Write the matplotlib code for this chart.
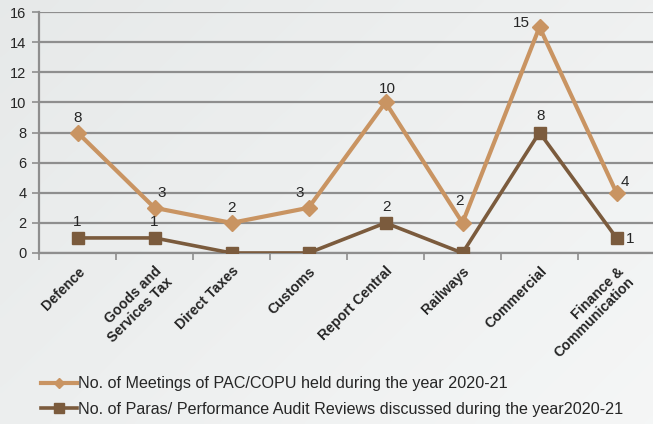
import numpy as np
import matplotlib
matplotlib.use("Agg")
import matplotlib.pyplot as plt
from matplotlib.lines import Line2D

categories = ["Defence", "Goods and\nServices Tax", "Direct Taxes", "Customs",
              "Report Central", "Railways", "Commercial", "Finance &\nCommunication"]
meetings = [8, 3, 2, 3, 10, 2, 15, 4]
paras = [1, 1, 0, 0, 2, 0, 8, 1]
label_meetings = "No. of Meetings of PAC/COPU held during the year 2020-21"
label_paras = "No. of Paras/ Performance Audit Reviews discussed during the year2020-21"

# label offsets in pixels (dx, dy)
off_meetings = [(0, 15), (7, 15), (0, 15), (-9, 15), (2, 13), (-3, 22), (-18, 4), (8, 11)]
off_paras = [(0, 16), (0, 16), None, None, (1, 16), None, (1, 16), (14, -1)]

tan = "#c99462"
brown = "#7b5b3d"
grid_c = "#8e8e8e"
txt = "#262626"

plt.rcParams["font.family"] = ["Liberation Sans", "DejaVu Sans"]

fig = plt.figure(figsize=(6.53, 4.24), dpi=100)

# soft background gradient
bg_ax = fig.add_axes([0, 0, 1, 1], zorder=-10)
gx, gy = np.meshgrid(np.linspace(0, 1, 200), np.linspace(0, 1, 130))
grad = 0.6 * gx + 0.4 * gy
c0 = np.array([0.905, 0.915, 0.915])
c1 = np.array([0.960, 0.965, 0.965])
img = c0[None, None, :] + (c1 - c0)[None, None, :] * grad[:, :, None]
bg_ax.imshow(img, aspect="auto", extent=[0, 1, 0, 1], interpolation="bilinear")
bg_ax.axis("off")

ax = fig.add_axes([39 / 653, 1 - 253 / 424, 616 / 653, 241 / 424])
ax.set_facecolor("none")

x = np.arange(len(categories))
ax.plot(x, meetings, color=tan, lw=3.0, marker="D", ms=8, mec=tan, mfc=tan, zorder=3)
ax.plot(x, paras, color=brown, lw=2.6, marker="s", ms=9, mec=brown, mfc=brown, zorder=4)

for i, v in enumerate(meetings):
    dx, dy = off_meetings[i]
    ax.annotate(str(v), (x[i], v), xytext=(dx, dy), textcoords="offset pixels",
                ha="center", va="center", fontsize=11, color=txt)
for i, v in enumerate(paras):
    if off_paras[i] is None:
        continue
    dx, dy = off_paras[i]
    ax.annotate(str(v), (x[i], v), xytext=(dx, dy), textcoords="offset pixels",
                ha="center", va="center", fontsize=11, color=txt)

ax.set_xlim(-0.5, len(categories) - 0.5)
ax.set_ylim(0, 16)
ax.set_yticks(range(0, 17, 2))
ax.yaxis.grid(True, color=grid_c, lw=1.6)
ax.set_axisbelow(True)
ax.set_xticks(np.arange(-0.5, len(categories), 1))
ax.set_xticklabels([])
ax.set_xticks(x, minor=True)
ax.set_xticklabels(categories, minor=True, rotation=45, ha="right",
                   rotation_mode="anchor", fontsize=10.2, fontweight="bold",
                   color=txt, linespacing=1.1)
ax.tick_params(axis="x", which="minor", length=0, pad=8)
ax.tick_params(axis="x", which="major", length=5, color=grid_c, width=1.2)
ax.tick_params(axis="y", length=5, color=grid_c, width=1.2, labelsize=10.5,
               labelcolor=txt, pad=4)
for s in ["top", "right"]:
    ax.spines[s].set_visible(False)
ax.spines["left"].set_color(grid_c)
ax.spines["left"].set_linewidth(1.6)
ax.spines["bottom"].set_color(grid_c)
ax.spines["bottom"].set_linewidth(1.6)

handles = [Line2D([], [], color=tan, lw=3.0, marker="D", ms=5.5),
           Line2D([], [], color=brown, lw=2.6, marker="s", ms=7)]
fig.legend(handles, [label_meetings, label_paras], loc="upper left",
           bbox_to_anchor=(30 / 653, 1 - 365 / 424), frameon=False,
           fontsize=11.6, handlelength=2.2, handletextpad=0.1,
           labelspacing=0.65, labelcolor=txt, borderpad=0.2)

fig.savefig("out.png", dpi=100)
